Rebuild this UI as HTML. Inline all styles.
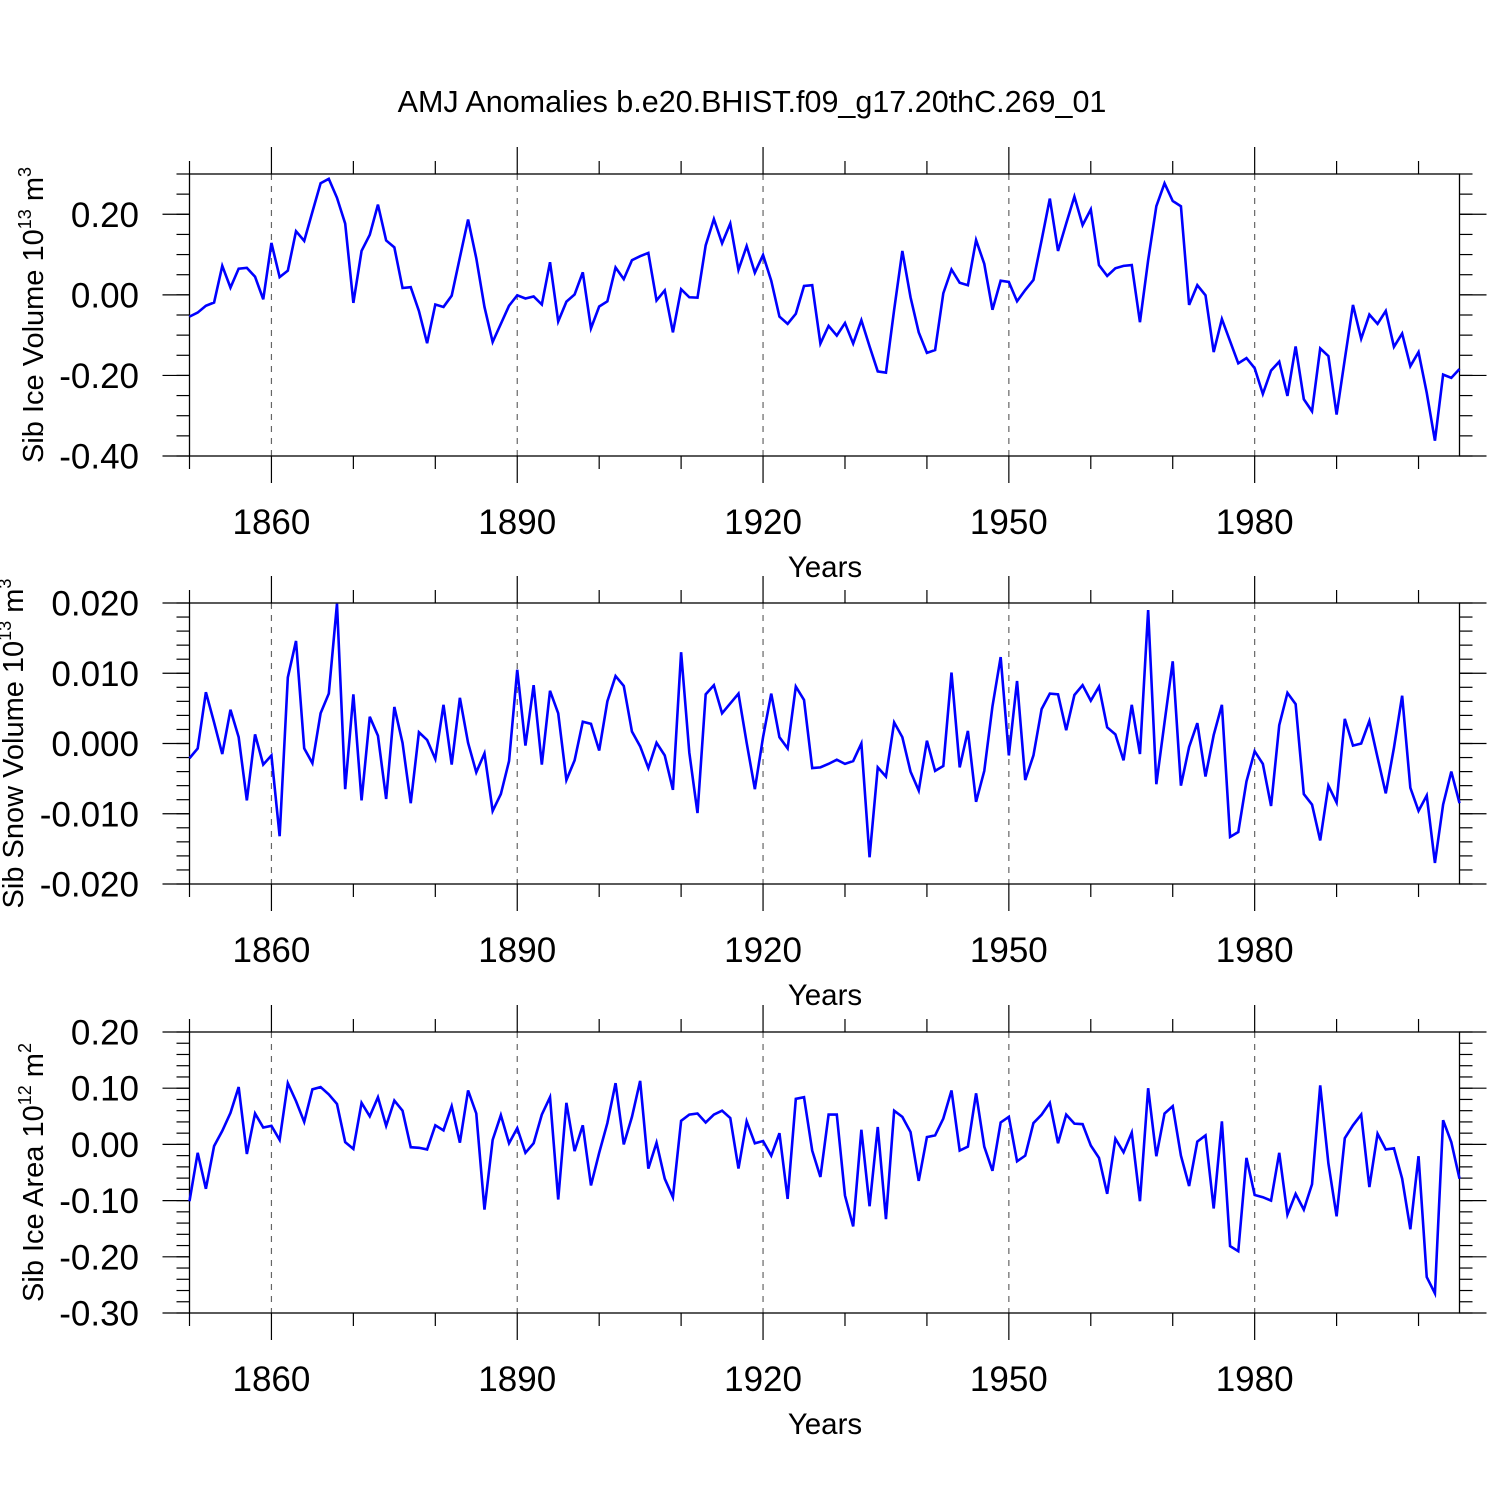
<!DOCTYPE html>
<html><head><meta charset="utf-8">
<style>
html,body{margin:0;padding:0;background:#fff;}
svg{display:block;font-family:"Liberation Sans",Arial,sans-serif;}
</style></head>
<body>
<svg id="chart" width="1500" height="1500" viewBox="0 0 1500 1500" xmlns="http://www.w3.org/2000/svg">
<text x="752" y="112" font-size="30.5" text-anchor="middle">AMJ Anomalies b.e20.BHIST.f09_g17.20thC.269_01</text>
</svg>
<script>
const startYear = 1850;
const endYear = 2005;
const xTickYears = [1860, 1890, 1920, 1950, 1980];

const iceVolume = [-0.054,-0.044,-0.027,-0.019,0.072,0.018,0.065,0.067,0.045,-0.011,
0.129,0.044,0.060,0.158,0.134,0.206,0.277,0.288,0.241,0.177,
-0.020,0.109,0.149,0.224,0.135,0.118,0.017,0.019,-0.040,-0.120,
-0.024,-0.030,-0.002,0.093,0.187,0.091,-0.030,-0.117,-0.072,-0.027,
-0.001,-0.009,-0.004,-0.024,0.081,-0.066,-0.017,0.001,0.056,-0.083,
-0.029,-0.016,0.068,0.039,0.086,0.096,0.104,-0.014,0.011,-0.093,
0.014,-0.006,-0.007,0.123,0.188,0.128,0.177,0.062,0.121,0.055,
0.099,0.035,-0.054,-0.072,-0.047,0.022,0.024,-0.121,-0.077,-0.101,
-0.070,-0.121,-0.063,-0.128,-0.190,-0.193,-0.037,0.109,-0.006,-0.093,
-0.144,-0.137,0.004,0.063,0.030,0.024,0.136,0.077,-0.037,0.035,
0.032,-0.016,0.012,0.037,0.136,0.239,0.109,0.177,0.244,0.173,
0.212,0.074,0.047,0.066,0.072,0.074,-0.068,0.086,0.220,0.277,
0.233,0.220,-0.025,0.024,-0.001,-0.142,-0.060,-0.115,-0.170,-0.157,
-0.182,-0.246,-0.188,-0.166,-0.251,-0.128,-0.259,-0.289,-0.133,-0.152,
-0.297,-0.160,-0.025,-0.109,-0.049,-0.072,-0.040,-0.129,-0.096,-0.177,
-0.142,-0.243,-0.362,-0.198,-0.206,-0.184];

const snowVolume = [-0.0021,-0.0007,0.0073,0.0030,-0.0015,0.0048,0.0009,-0.0081,0.0013,-0.0030,
-0.0017,-0.0132,0.0094,0.0146,-0.0007,-0.0028,0.0043,0.0071,0.0199,-0.0065,
0.0070,-0.0081,0.0038,0.0011,-0.0079,0.0052,0.0001,-0.0085,0.0016,0.0005,
-0.0022,0.0055,-0.0030,0.0065,0.0001,-0.0041,-0.0014,-0.0096,-0.0072,-0.0025,
0.0105,-0.0003,0.0083,-0.0030,0.0075,0.0043,-0.0052,-0.0024,0.0031,0.0028,
-0.0010,0.0060,0.0096,0.0082,0.0017,-0.0004,-0.0035,0.0001,-0.0017,-0.0066,
0.0130,-0.0013,-0.0099,0.0070,0.0083,0.0043,0.0057,0.0071,0.0001,-0.0065,
0.0009,0.0071,0.0009,-0.0007,0.0081,0.0062,-0.0035,-0.0034,-0.0029,-0.0023,
-0.0029,-0.0025,0.0000,-0.0162,-0.0034,-0.0047,0.0030,0.0009,-0.0040,-0.0067,
0.0004,-0.0039,-0.0032,0.0101,-0.0034,0.0018,-0.0083,-0.0039,0.0053,0.0123,
-0.0017,0.0089,-0.0052,-0.0017,0.0049,0.0071,0.0070,0.0019,0.0069,0.0083,
0.0061,0.0081,0.0023,0.0013,-0.0024,0.0055,-0.0015,0.0190,-0.0058,0.0030,
0.0117,-0.0060,-0.0005,0.0029,-0.0047,0.0012,0.0055,-0.0133,-0.0126,-0.0054,
-0.0011,-0.0029,-0.0089,0.0026,0.0072,0.0056,-0.0072,-0.0087,-0.0138,-0.0060,
-0.0084,0.0035,-0.0003,0.0000,0.0032,-0.0020,-0.0071,-0.0006,0.0068,-0.0063,
-0.0096,-0.0074,-0.0170,-0.0087,-0.0040,-0.0085];

const iceArea = [-0.101,-0.015,-0.079,-0.003,0.024,0.056,0.102,-0.017,0.055,0.030,
0.033,0.008,0.109,0.077,0.040,0.098,0.102,0.089,0.072,0.004,
-0.008,0.074,0.050,0.084,0.033,0.078,0.060,-0.005,-0.006,-0.009,
0.034,0.025,0.068,0.003,0.096,0.055,-0.116,0.008,0.052,0.002,
0.029,-0.015,0.002,0.053,0.084,-0.098,0.074,-0.012,0.034,-0.073,
-0.015,0.038,0.109,0.000,0.049,0.113,-0.043,0.003,-0.061,-0.094,
0.042,0.053,0.055,0.039,0.053,0.060,0.047,-0.043,0.041,0.002,
0.006,-0.020,0.020,-0.097,0.081,0.084,-0.011,-0.058,0.053,0.053,
-0.091,-0.146,0.026,-0.110,0.031,-0.133,0.060,0.049,0.022,-0.065,
0.013,0.016,0.046,0.096,-0.011,-0.004,0.091,-0.004,-0.047,0.039,
0.049,-0.030,-0.020,0.038,0.053,0.074,0.002,0.053,0.037,0.036,
-0.002,-0.024,-0.088,0.010,-0.014,0.021,-0.101,0.100,-0.021,0.055,
0.068,-0.020,-0.074,0.005,0.016,-0.114,0.041,-0.181,-0.190,-0.024,
-0.090,-0.094,-0.100,-0.015,-0.125,-0.088,-0.116,-0.071,0.105,-0.034,
-0.128,0.011,0.034,0.053,-0.076,0.019,-0.009,-0.007,-0.061,-0.151,
-0.021,-0.236,-0.265,0.043,0.004,-0.061];

const iceVolumeTicks = ["0.20","0.00","-0.20","-0.40"];
const iceVolumeTickVals = [0.2,0,-0.2,-0.4];
const snowTicks = ["0.020","0.010","0.000","-0.010","-0.020"];
const snowTickVals = [0.02,0.01,0,-0.01,-0.02];
const areaTicks = ["0.20","0.10","0.00","-0.10","-0.20","-0.30"];
const areaTickVals = [0.2,0.1,0,-0.1,-0.2,-0.3];

const NS = "http://www.w3.org/2000/svg";
const svg = document.getElementById("chart");
const X0 = 189.5, X1 = 1459.5;
function xScale(yr){ return X0 + (yr - startYear) / (endYear - startYear) * (X1 - X0); }
function mk(tag, attrs, parent){
  const e = document.createElementNS(NS, tag);
  for (const k in attrs) e.setAttribute(k, attrs[k]);
  (parent || svg).appendChild(e);
  return e;
}

function panel(opts){
  const g = mk("g", {});
  
  
  const yScale = v => opts.top + (opts.ymax - v) / (opts.ymax - opts.ymin) * (opts.bottom - opts.top);
  xTickYears.forEach(yr => {
    const l = mk("line", {x1:xScale(yr), x2:xScale(yr), y1:opts.top, y2:opts.bottom, stroke:"#666", "stroke-width":1.2, "stroke-dasharray":"6,6"}, g);
    
    
  });
  for (let yr = startYear; yr <= endYear; yr += 10) {
    const major = xTickYears.includes(yr);
    const len = major ? 27 : 13;
    const b = mk("line", {x1:xScale(yr), x2:xScale(yr), y1:opts.bottom, y2:opts.bottom+len, stroke:"#000", "stroke-width":1.2}, g);
    
    
    const t = mk("line", {x1:xScale(yr), x2:xScale(yr), y1:opts.top, y2:opts.top-len, stroke:"#000", "stroke-width":1.2}, g);
    
    
  }
  xTickYears.forEach(yr => {
    const t = mk("text", {x:xScale(yr), y:opts.bottom+78, "font-size":35, "text-anchor":"middle"}, g);
    t.textContent = yr;
    
    
  });
  const xt = mk("text", {x:825, y:opts.bottom+121, "font-size":29.5, "text-anchor":"middle"}, g);
  xt.textContent = "Years";
  
  
  const n = Math.round((opts.ymax - opts.ymin) / opts.minor);
  for (let i = 0; i <= n; i++) {
    const v = opts.ymin + i * opts.minor;
    const y = yScale(v);
    const l = mk("line", {x1:X0-13, x2:X0, y1:y, y2:y, stroke:"#000", "stroke-width":1.2}, g);
    
    
    const r = mk("line", {x1:X1, x2:X1+13, y1:y, y2:y, stroke:"#000", "stroke-width":1.2}, g);
    
    
  }
  opts.tickVals.forEach((v, i) => {
    const y = yScale(v);
    const l = mk("line", {x1:X0-27, x2:X0, y1:y, y2:y, stroke:"#000", "stroke-width":1.2}, g);
    
    
    const r = mk("line", {x1:X1, x2:X1+27, y1:y, y2:y, stroke:"#000", "stroke-width":1.2}, g);
    
    
    const t = mk("text", {x:139, y:y+12.5, "font-size":35, "text-anchor":"end"}, g);
    t.textContent = opts.tickLabels[i];
    
    
  });
  const f = mk("rect", {x:X0, y:opts.top, width:X1-X0, height:opts.bottom-opts.top, fill:"none", stroke:"#000", "stroke-width":1.3}, g);
  
  
  const pts = opts.data.map((v, i) => xScale(startYear + i).toFixed(2) + "," + yScale(v).toFixed(2)).join(" ");
  const pl = mk("polyline", {points:pts, fill:"none", stroke:"#0000ff", "stroke-width":2.6, "stroke-linejoin":"miter"}, g);
  
  
  const cy = (opts.top + opts.bottom) / 2;
  const yt = mk("text", {x:0, y:0, "font-size":29, "text-anchor":"middle", transform:"translate(" + opts.titleX + "," + cy + ") rotate(-90)"}, g);
  
  
  const a = document.createElementNS(NS, "tspan"); a.textContent = opts.title + " 10"; yt.appendChild(a);
  const s = document.createElementNS(NS, "tspan"); s.textContent = opts.exp1; s.setAttribute("font-size", "18"); s.setAttribute("dy", "-12"); yt.appendChild(s);
  const m = document.createElementNS(NS, "tspan"); m.textContent = " m"; m.setAttribute("dy", "12"); yt.appendChild(m);
  const s2 = document.createElementNS(NS, "tspan"); s2.textContent = opts.exp2; s2.setAttribute("font-size", "18"); s2.setAttribute("dy", "-12"); yt.appendChild(s2);
}

panel({name:"ice-volume-panel", top:174, bottom:456, ymax:0.30, ymin:-0.40, minor:0.05,
  tickVals:iceVolumeTickVals, tickLabels:iceVolumeTicks, data:iceVolume,
  title:"Sib Ice Volume", exp1:"13", exp2:"3", titleX:43});
panel({name:"snow-volume-panel", top:603, bottom:884, ymax:0.020, ymin:-0.020, minor:0.002,
  tickVals:snowTickVals, tickLabels:snowTicks, data:snowVolume,
  title:"Sib Snow Volume", exp1:"13", exp2:"3", titleX:23});
panel({name:"ice-area-panel", top:1032, bottom:1313, ymax:0.20, ymin:-0.30, minor:0.02,
  tickVals:areaTickVals, tickLabels:areaTicks, data:iceArea,
  title:"Sib Ice Area", exp1:"12", exp2:"2", titleX:43});
</script>
</body></html>
